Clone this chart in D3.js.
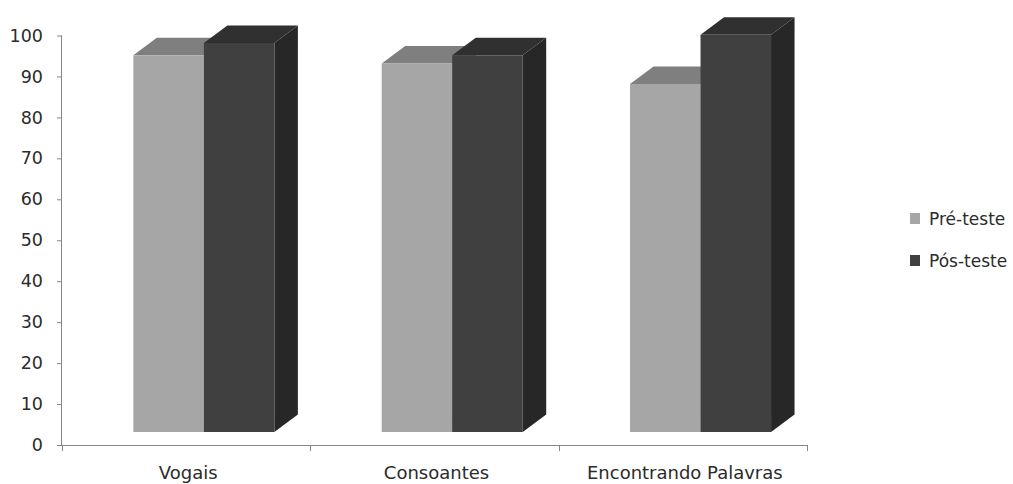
<!DOCTYPE html>
<html>
<head>
<meta charset="utf-8">
<script src="https://cdn.jsdelivr.net/npm/d3@7/dist/d3.min.js"></script>
<style>
  html, body { margin: 0; padding: 0; background: #fff; }
  svg { display: block; }
  text { font-family: "DejaVu Sans", Verdana, sans-serif; fill: #2b2b2b; }
</style>
</head>
<body>
<svg id="chart" width="1013" height="484"></svg>
<script>
// Categories, series and values (percent of correct answers)
const categories = ["Vogais", "Consoantes", "Encontrando Palavras"];
const seriesNames = ["Pré-teste", "Pós-teste"];
const preTeste = [92, 90, 85];
const posTeste = [95, 92, 97];
const yTicks = [0, 10, 20, 30, 40, 50, 60, 70, 80, 90, 100];

const seriesValues = [preTeste, posTeste];
const faceColors = [
  { front: "#a6a6a6", top: "#7f7f7f", side: "#8a8a8a" },
  { front: "#404040", top: "#303030", side: "#272727" }
];

const svg = d3.select("#chart");

const plot = { left: 62, right: 807, top: 35.5, bottom: 445 };

const y = d3.scaleLinear().domain([0, 100]).range([plot.bottom, plot.top]);
const x0 = d3.scaleBand().domain(categories).range([plot.left, plot.right]).padding(0);
const x1 = d3.scaleBand().domain(seriesNames).range([0, x0.bandwidth()])
  .paddingInner(0).paddingOuter(0.761);

// Oblique 3D projection: columns stand part-way into the floor,
// and each column has its own depth.
const floorShift = { dx: 17.7, dy: -13 };
const depth = { dx: 23.5, dy: -17.5 };

// Axes
const axisColor = "#868686";
const yAxis = svg.append("g").attr("transform", `translate(${plot.left},0)`)
  .call(d3.axisLeft(y).tickValues(yTicks).tickSize(5).tickPadding(14));
yAxis.select(".domain").attr("stroke", axisColor).attr("d", `M-0.5,${plot.top}V${plot.bottom}`);
yAxis.selectAll(".tick line").attr("stroke", axisColor);
yAxis.selectAll(".tick text").style("font-size", "17.5px").attr("fill", "#2b2b2b")
  .style("font-family", "'DejaVu Sans', Verdana, sans-serif");

const xAxis = svg.append("g").attr("transform", `translate(0,${plot.bottom})`);
xAxis.append("line")
  .attr("x1", plot.left).attr("x2", plot.right)
  .attr("y1", 0.5).attr("y2", 0.5)
  .attr("stroke", axisColor);
const boundaries = categories.map(c => x0(c)).concat([plot.right]);
xAxis.selectAll("line.sep").data(boundaries).join("line")
  .attr("class", "sep")
  .attr("x1", d => Math.round(d) + 0.5).attr("x2", d => Math.round(d) + 0.5)
  .attr("y1", 0).attr("y2", 6)
  .attr("stroke", axisColor);
xAxis.selectAll("text.cat").data(categories).join("text")
  .attr("class", "cat")
  .attr("x", d => x0(d) + x0.bandwidth() / 2 + 2)
  .attr("y", 34)
  .attr("text-anchor", "middle")
  .style("font-size", "18px")
  .text(d => d);

// Columns
const bars = [];
categories.forEach((c, ci) => {
  seriesNames.forEach((s, si) => {
    bars.push({ cat: c, series: s, si, value: seriesValues[si][ci] });
  });
});

const pts = a => a.map(p => p.join(",")).join(" ");

const barG = svg.append("g");
bars.forEach(b => {
  const xl = x0(b.cat) + x1(b.series) + floorShift.dx;
  const xr = xl + x1.bandwidth();
  const yb = y(0) + floorShift.dy;
  const yt = y(b.value) + floorShift.dy;
  const col = faceColors[b.si];
  const g = barG.append("g");
  // side face
  g.append("polygon")
    .attr("points", pts([[xr, yt], [xr + depth.dx, yt + depth.dy], [xr + depth.dx, yb + depth.dy], [xr, yb]]))
    .attr("fill", col.side);
  // top face
  g.append("polygon")
    .attr("points", pts([[xl, yt], [xl + depth.dx, yt + depth.dy], [xr + depth.dx, yt + depth.dy], [xr, yt]]))
    .attr("fill", col.top);
  // front face
  g.append("rect")
    .attr("x", xl).attr("y", yt)
    .attr("width", xr - xl).attr("height", yb - yt)
    .attr("fill", col.front);
});

// Legend
const legend = svg.append("g").attr("transform", "translate(910,213)");
seriesNames.forEach((s, i) => {
  const row = legend.append("g").attr("transform", `translate(0,${i * 42})`);
  row.append("rect").attr("width", 10).attr("height", 11).attr("fill", faceColors[i].front);
  row.append("text").attr("x", 19).attr("y", 11.5).style("font-size", "17px").text(s);
});
</script>
</body>
</html>
